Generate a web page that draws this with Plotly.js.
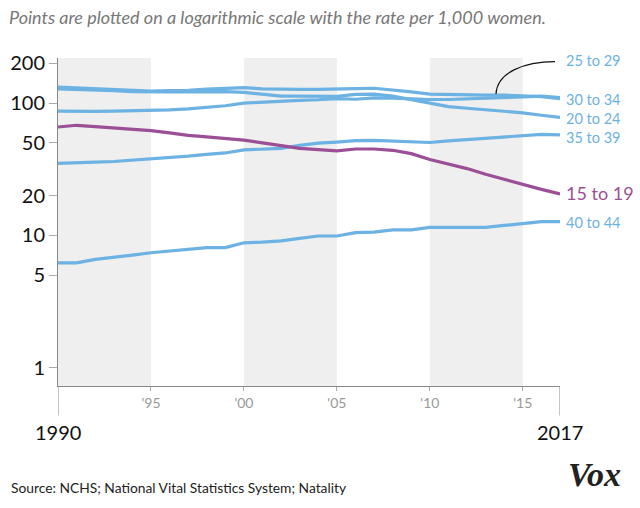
<!DOCTYPE html>
<html>
<head>
<meta charset="utf-8">
<script src="https://cdn.plot.ly/plotly-3.0.1.min.js"></script>
<style>
  html, body { margin: 0; padding: 0; background: #fff; }
  #chart { width: 640px; height: 508px; }
</style>
</head>
<body>
<div id="chart"></div>
<script>
// Birth rate per 1,000 women, by age group (log scale)
const years = [1990, 1991, 1992, 1993, 1994, 1995, 1996, 1997, 1998, 1999,
               2000, 2001, 2002, 2003, 2004, 2005, 2006, 2007, 2008, 2009,
               2010, 2011, 2012, 2013, 2014, 2015, 2016, 2017];

const age15to19 = [66, 68, 66.5, 65, 64, 62, 59.5, 57, 55.5, 54,
                   52.5, 50, 47.5, 45.5, 44.5, 43.5, 45, 45, 44, 41.5,
                   37.5, 34.5, 32, 29, 26.5, 24.5, 22.3, 20.6];
const age20to24 = [128, 127, 126, 124, 122, 121, 121.5, 121.5, 122, 122,
                   120.5, 116, 113, 113, 112, 112.5, 116.5, 117, 113, 106,
                   99, 94, 91.5, 89, 87, 84.5, 81, 78];
const age25to29 = [132, 130, 129, 127, 125, 123.5, 124.5, 125, 127.5, 129,
                   131, 128, 127, 127, 127, 127, 128.5, 129.5, 126, 121.5,
                   117, 116, 115.5, 115, 115, 114, 112, 108];
const age30to34 = [87, 86.5, 86.5, 87, 87.5, 88, 89, 90.5, 93, 95.5,
                   100, 102, 103, 105, 106, 108, 107, 109.5, 109, 107.5,
                   106.5, 106.5, 107.5, 108, 110.5, 111.5, 113, 110];
const age35to39 = [35, 35.2, 35.8, 36.2, 37, 37.7, 38.8, 39.7, 41, 42,
                   44.3, 44.7, 45.5, 48, 49.8, 50.8, 52, 52.3, 51.6, 50.7,
                   50.4, 51.8, 53, 54.2, 56, 57, 58, 57.5];
const age40to44 = [6.2, 6.2, 6.6, 6.8, 7.1, 7.4, 7.6, 7.9, 8.1, 8.1,
                   8.8, 8.9, 9.1, 9.5, 9.9, 9.9, 10.5, 10.6, 11, 11,
                   11.5, 11.5, 11.5, 11.5, 11.9, 12.3, 12.7, 12.7];

const xTickVals = [1995, 2000, 2005, 2010, 2015];
const xTickText = ["'95", "'00", "'05", "'10", "'15"];
const yTickVals = [1, 5, 10, 20, 50, 100, 200];
const shadedSpans = [[1990, 1995], [2000, 2005], [2010, 2015]];

const BLUE = '#6cb2e2';
const PURPLE = '#9b4f96';
const FONT = "Lato, 'Open Sans', sans-serif";

function line(y, color) {
    return {
        x: years,
        y: y,
        type: 'scatter',
        mode: 'lines',
        line: { color: color, width: 3.2 },
        hoverinfo: 'skip',
        showlegend: false
    };
}

const data = [
    line(age40to44, BLUE),
    line(age35to39, BLUE),
    line(age20to24, BLUE),
    line(age30to34, BLUE),
    line(age25to29, BLUE),
    line(age15to19, PURPLE)
];

// grey bands behind the lines
const shapes = shadedSpans.map(s => ({
    type: 'rect', xref: 'x', yref: 'paper',
    x0: s[0], x1: s[1], y0: 0, y1: 1,
    fillcolor: '#efefef', line: { width: 0 }, layer: 'below'
}));

// long ticks under the first and last year
[1990, 2017].forEach(yr => {
    shapes.push({
        type: 'line', xref: 'x', yref: 'paper',
        x0: yr, x1: yr, y0: 0, y1: -0.09,
        line: { color: '#888', width: 1 }
    });
});

// pointer to the 25 to 29 line
shapes.push({
    type: 'path', xref: 'paper', yref: 'paper',
    path: 'M0.990,0.9887 C0.930,0.9887 0.8745,0.9573 0.8725,0.8902',
    line: { color: '#111', width: 1.2 }
});

function sideLabel(text, y, color, size) {
    return {
        xref: 'paper', yref: 'paper', x: 1.008, y: y,
        xanchor: 'left', yanchor: 'middle', showarrow: false,
        text: text, font: { family: FONT, size: size, color: color }
    };
}

const annotations = [
    sideLabel('25 to 29', 0.9918, BLUE, 14.5),
    sideLabel('30 to 34', 0.8741, BLUE, 14.5),
    sideLabel('20 to 24', 0.8149, BLUE, 14.5),
    sideLabel('35 to 39', 0.7570, BLUE, 14.5),
    sideLabel('15 to 19', 0.5893, PURPLE, 18),
    sideLabel('40 to 44', 0.4970, BLUE, 14.5),
    {
        xref: 'x', yref: 'paper', x: 1990, y: -0.14, showarrow: false,
        xanchor: 'center', yanchor: 'middle',
        text: '1990', font: { family: FONT, size: 20, color: '#111' }
    },
    {
        xref: 'x', yref: 'paper', x: 2017, y: -0.14, showarrow: false,
        xanchor: 'center', yanchor: 'middle',
        text: '2017', font: { family: FONT, size: 20, color: '#111' }
    },
    {
        xref: 'paper', yref: 'paper', x: -0.098, y: -0.308, showarrow: false,
        xanchor: 'left', yanchor: 'middle',
        text: 'Source: NCHS; National Vital Statistics System; Natality',
        font: { family: FONT, size: 13.8, color: '#222' }
    },
    {
        xref: 'paper', yref: 'paper', x: 1.069, y: -0.27, showarrow: false,
        xanchor: 'center', yanchor: 'middle',
        text: '<b><i>Vox</i></b>',
        font: { family: "'Liberation Serif', 'DejaVu Serif', serif", size: 34, color: '#222' }
    }
];

const layout = {
    width: 640,
    height: 508,
    margin: { l: 58, r: 80, t: 58, b: 122 },
    paper_bgcolor: '#fff',
    plot_bgcolor: 'rgba(0,0,0,0)',
    font: { family: FONT },
    title: {
        text: '<i>Points are plotted on a logarithmic scale with the rate per 1,000 women.</i>',
        font: { family: FONT, size: 18, color: '#777' },
        x: 0.014, xanchor: 'left', xref: 'container',
        y: 0.966, yanchor: 'middle', yref: 'container'
    },
    xaxis: {
        range: [1990, 2017],
        tickvals: xTickVals,
        ticktext: xTickText,
        ticks: 'outside', ticklen: 4, tickcolor: '#aaa',
        tickfont: { family: FONT, size: 14, color: '#999' },
        showline: true, linecolor: '#888', linewidth: 1,
        showgrid: false, zeroline: false, fixedrange: true
    },
    yaxis: {
        type: 'log',
        range: [-0.138, 2.341],
        tickvals: yTickVals,
        ticktext: yTickVals.map(String),
        ticks: 'outside', ticklen: 8, tickcolor: '#aaa',
        tickfont: { family: FONT, size: 20, color: '#111' },
        showline: true, linecolor: '#888', linewidth: 1,
        showgrid: false, zeroline: false, fixedrange: true
    },
    shapes: shapes,
    annotations: annotations
};

Plotly.newPlot('chart', data, layout, { displayModeBar: false, staticPlot: true });
</script>
</body>
</html>
